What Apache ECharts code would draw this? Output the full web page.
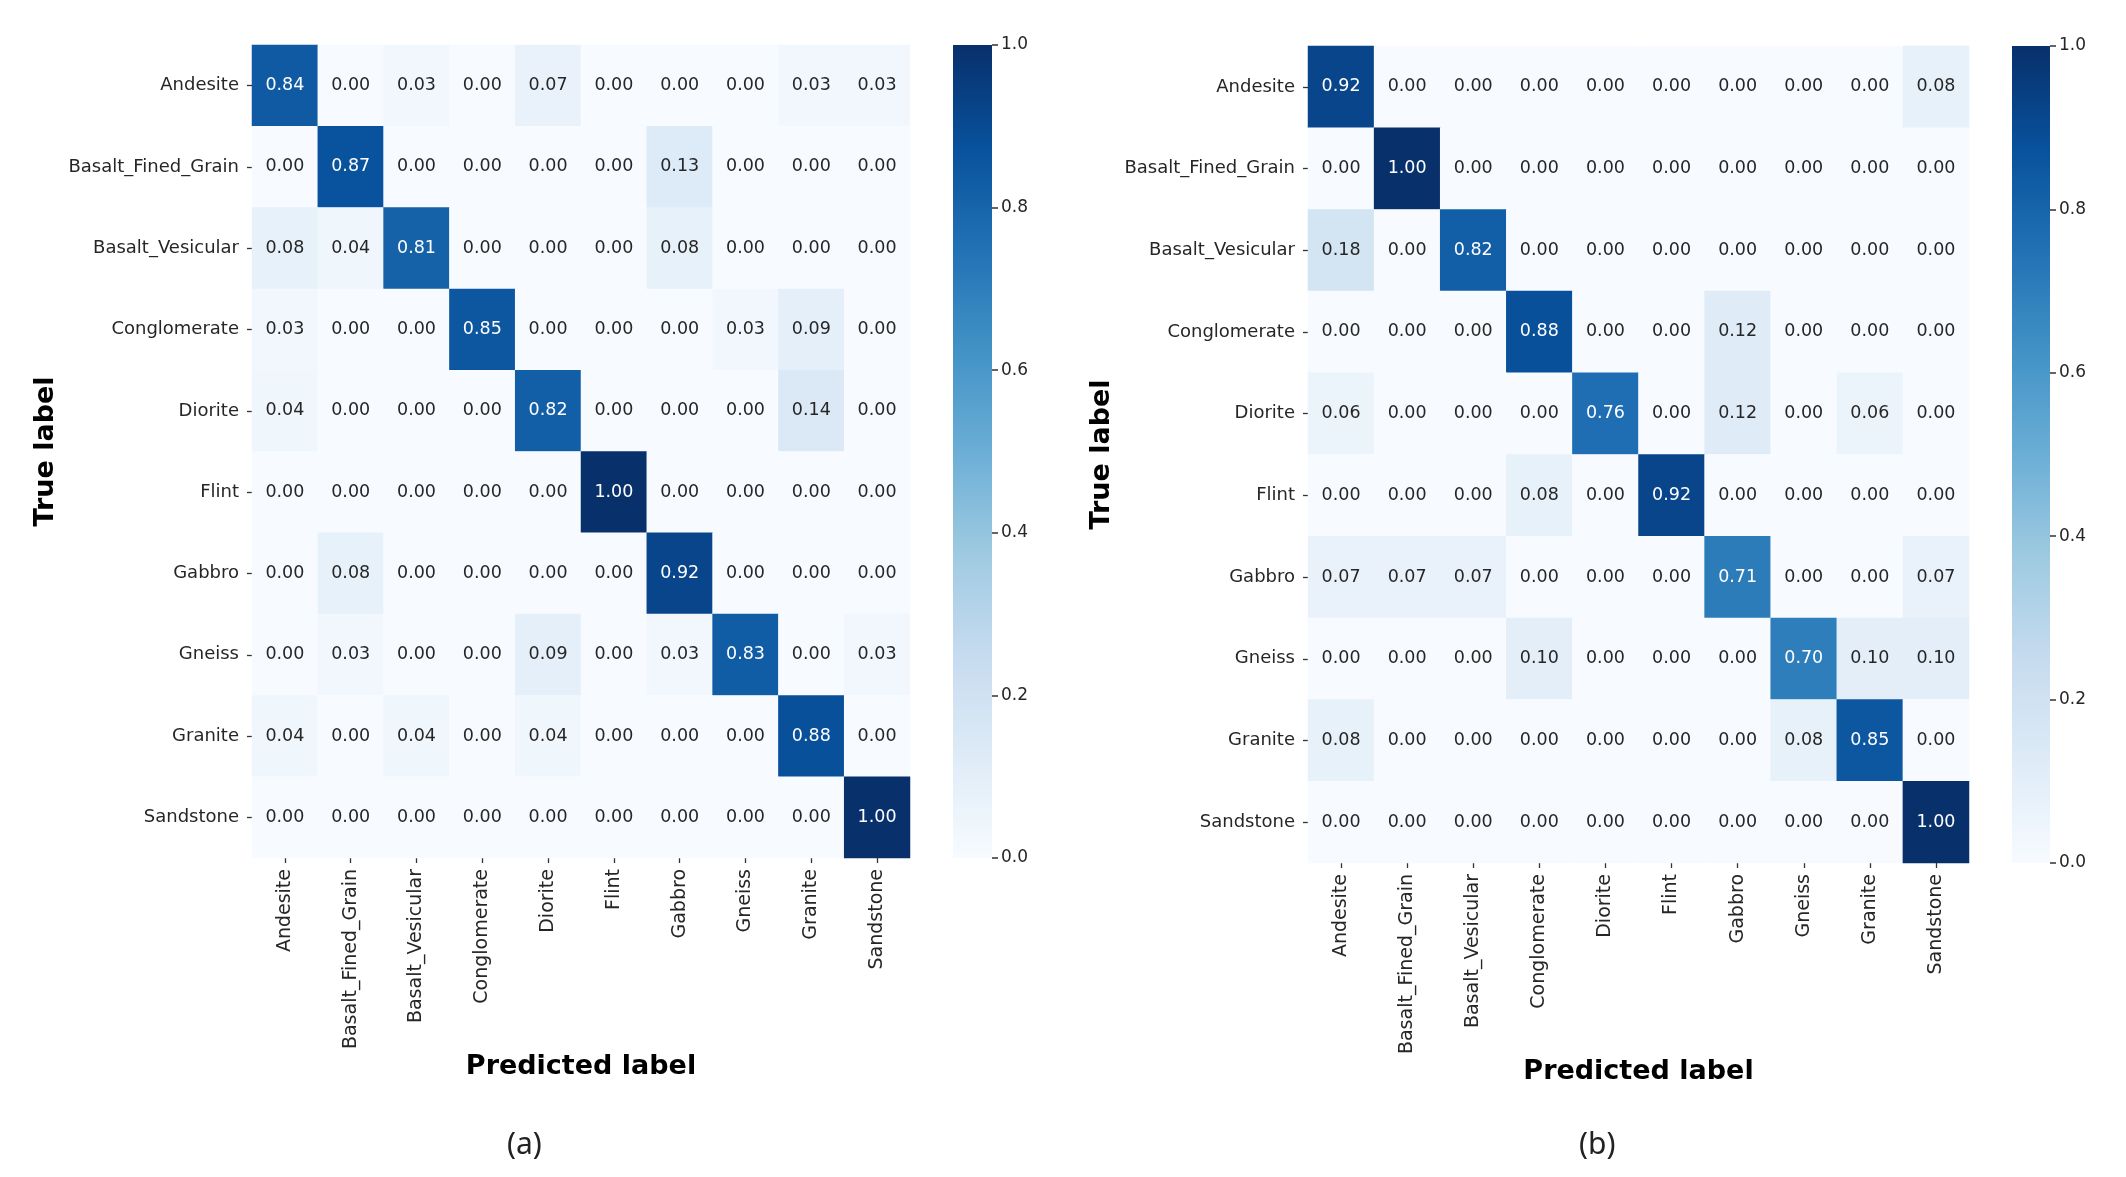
<!DOCTYPE html>
<html>
<head>
<meta charset="utf-8">
<script src="https://cdn.jsdelivr.net/npm/echarts@6/dist/echarts.min.js"></script>
<style>
html,body{margin:0;padding:0;background:#fff;}
#chart{width:2126px;height:1177px;}
</style>
</head>
<body>
<div id="chart"></div>
<script>
const categories = ['Andesite','Basalt_Fined_Grain','Basalt_Vesicular','Conglomerate','Diorite','Flint','Gabbro','Gneiss','Granite','Sandstone'];

const matrixA = [
  [0.84,0.00,0.03,0.00,0.07,0.00,0.00,0.00,0.03,0.03],
  [0.00,0.87,0.00,0.00,0.00,0.00,0.13,0.00,0.00,0.00],
  [0.08,0.04,0.81,0.00,0.00,0.00,0.08,0.00,0.00,0.00],
  [0.03,0.00,0.00,0.85,0.00,0.00,0.00,0.03,0.09,0.00],
  [0.04,0.00,0.00,0.00,0.82,0.00,0.00,0.00,0.14,0.00],
  [0.00,0.00,0.00,0.00,0.00,1.00,0.00,0.00,0.00,0.00],
  [0.00,0.08,0.00,0.00,0.00,0.00,0.92,0.00,0.00,0.00],
  [0.00,0.03,0.00,0.00,0.09,0.00,0.03,0.83,0.00,0.03],
  [0.04,0.00,0.04,0.00,0.04,0.00,0.00,0.00,0.88,0.00],
  [0.00,0.00,0.00,0.00,0.00,0.00,0.00,0.00,0.00,1.00]
];

const matrixB = [
  [0.92,0.00,0.00,0.00,0.00,0.00,0.00,0.00,0.00,0.08],
  [0.00,1.00,0.00,0.00,0.00,0.00,0.00,0.00,0.00,0.00],
  [0.18,0.00,0.82,0.00,0.00,0.00,0.00,0.00,0.00,0.00],
  [0.00,0.00,0.00,0.88,0.00,0.00,0.12,0.00,0.00,0.00],
  [0.06,0.00,0.00,0.00,0.76,0.00,0.12,0.00,0.06,0.00],
  [0.00,0.00,0.00,0.08,0.00,0.92,0.00,0.00,0.00,0.00],
  [0.07,0.07,0.07,0.00,0.00,0.00,0.71,0.00,0.00,0.07],
  [0.00,0.00,0.00,0.10,0.00,0.00,0.00,0.70,0.10,0.10],
  [0.08,0.00,0.00,0.00,0.00,0.00,0.00,0.08,0.85,0.00],
  [0.00,0.00,0.00,0.00,0.00,0.00,0.00,0.00,0.00,1.00]
];

const colorbarRange = [0, 1];
const colorbarStep = 0.2;
const panelLabels = ['(a)', '(b)'];
const xTitle = 'Predicted label';
const yTitle = 'True label';

const blues = ['#f7fbff','#deebf7','#c6dbef','#9ecae1','#6baed6','#4292c6','#2171b5','#08519c','#08306b'];

function toData(m){
  const out = [];
  m.forEach((row, r) => row.forEach((v, c) => out.push({
    value:[c, r, v],
    label:{color: v > 0.5 ? '#ffffff' : '#262626'}
  })));
  return out;
}

const tickBase = {fontFamily:'DejaVu Sans', color:'#262626'};
const titleFont = {fontFamily:'DejaVu Sans', fontSize:27, fontWeight:'bold', color:'#000'};
const tickLine = {show:true, alignWithLabel:true, length:5, lineStyle:{color:'#333', width:1.3}};

const panels = [
  {grid:{left:252, top:45, width:658, height:813}, cbar:{left:953, top:45, width:39, height:813}, m:matrixA, xGap:195},
  {grid:{left:1308, top:46, width:661, height:817}, cbar:{left:2012, top:46, width:38, height:817}, m:matrixB, xGap:195}
];

const gradient = new echarts.graphic.LinearGradient(0, 1, 0, 0,
  blues.map((c, k) => ({offset:k/(blues.length-1), color:c})));

const grid = [], xAxis = [], yAxis = [], series = [], visualMap = [];
panels.forEach((p, i) => {
  grid.push(p.grid);
  grid.push(p.cbar);
  const gi = i*2, ci = i*2+1;
  xAxis.push({
    type:'category', data:categories, gridIndex:gi, position:'bottom',
    axisLine:{show:false}, splitLine:{show:false}, splitArea:{show:false},
    axisTick:tickLine,
    axisLabel:Object.assign({rotate:90, margin:11, interval:0, fontSize:19}, tickBase),
    name:xTitle, nameLocation:'middle', nameGap:p.xGap, nameMoveOverlap:false, nameTextStyle:titleFont
  });
  yAxis.push({
    type:'category', data:categories, gridIndex:gi, inverse:true,
    axisLine:{show:false}, splitLine:{show:false}, splitArea:{show:false},
    axisTick:tickLine,
    axisLabel:Object.assign({margin:13, interval:0, fontSize:18}, tickBase),
    name:yTitle, nameLocation:'middle', nameGap:193, nameRotate:90, nameMoveOverlap:false, nameTextStyle:titleFont
  });
  xAxis.push({type:'category', gridIndex:ci, show:false, data:['cb']});
  yAxis.push({
    type:'value', gridIndex:ci, position:'right', min:colorbarRange[0], max:colorbarRange[1], interval:colorbarStep,
    axisLine:{show:false}, splitLine:{show:false},
    axisTick:{show:true, inside:false, length:6, lineStyle:{color:'#333', width:1.5}},
    axisLabel:Object.assign({margin:9, fontSize:17, formatter:v => v.toFixed(1)}, tickBase)
  });
  series.push({
    type:'heatmap', xAxisIndex:gi, yAxisIndex:gi, data:toData(p.m),
    itemStyle:{borderWidth:0},
    label:{show:true, fontFamily:'DejaVu Sans', fontSize:17.5,
      formatter: d => d.value[2].toFixed(2)},
    emphasis:{disabled:true}
  });
  series.push({
    type:'bar', xAxisIndex:ci, yAxisIndex:ci, data:[colorbarRange[1]],
    barWidth:'100%', silent:true, itemStyle:{color:gradient}
  });
  visualMap.push({
    type:'continuous', min:colorbarRange[0], max:colorbarRange[1], seriesIndex:i*2,
    show:false, inRange:{color:blues}
  });
});

const chart = echarts.init(document.getElementById('chart'), null, {renderer:'canvas'});
chart.setOption({
  animation:false,
  backgroundColor:'#ffffff',
  grid, xAxis, yAxis, series, visualMap,
  graphic: panelLabels.map((t, i) => ({
    type:'text', left: i === 0 ? 507 : 1579, top:1130,
    style:{text:t, font:'30px "Noto Sans"', fill:'#222'}
  }))
});
</script>
</body>
</html>
